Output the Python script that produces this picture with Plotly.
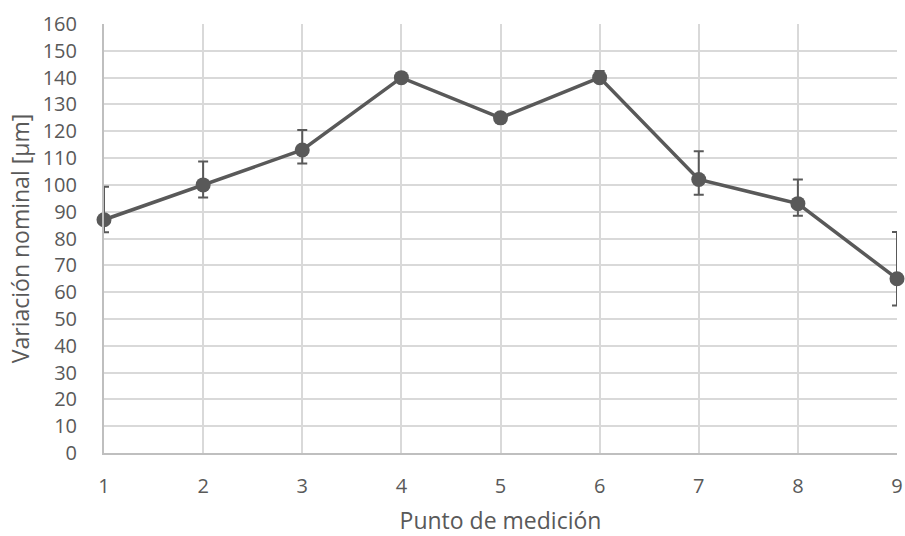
import plotly.graph_objects as go

# Measurement points and nominal variation (µm) with asymmetric error ranges
puntos = [1, 2, 3, 4, 5, 6, 7, 8, 9]
variacion = [87, 100, 113, 140, 125, 140, 102, 93, 65]
error_sup = [12.3, 8.7, 7.5, 0.8, 0.5, 2.5, 10.5, 9.0, 17.4]
error_inf = [4.7, 4.7, 5.0, 0.8, 0.5, 1.5, 5.7, 4.5, 10.0]

gris = "#595959"
fuente = "Open Sans, Noto Sans, sans-serif"

fig = go.Figure()
fig.add_trace(go.Scatter(
    x=puntos,
    y=variacion,
    mode="lines+markers",
    line=dict(color=gris, width=3.5),
    marker=dict(color=gris, size=15),
    error_y=dict(type="data", symmetric=False, array=error_sup,
                 arrayminus=error_inf, color=gris, thickness=2, width=5),
    cliponaxis=False,
    showlegend=False,
))

fig.update_layout(
    width=905, height=536,
    margin=dict(l=104, r=8, t=24, b=83, autoexpand=False),
    paper_bgcolor="white",
    plot_bgcolor="white",
    font=dict(family=fuente, color=gris, size=20),
    xaxis=dict(
        range=[1, 9], tickvals=puntos, ticks="", ticklabelstandoff=14,
        automargin=False,
        showgrid=True, gridcolor="#d9d9d9", gridwidth=1.5,
        showline=True, linecolor="#bfbfbf", linewidth=2,
        zeroline=False,
        title=dict(text="Punto de medición", standoff=17,
                   font=dict(size=23, color=gris)),
        tickfont=dict(size=20, color=gris),
    ),
    yaxis=dict(
        range=[0, 160], dtick=10, ticks="", ticklabelstandoff=21,
        automargin=False,
        showgrid=True, gridcolor="#d9d9d9", gridwidth=1.5,
        showline=True, linecolor="#bfbfbf", linewidth=2,
        zeroline=False,
        title=dict(text="Variación nominal [µm]", standoff=7,
                   font=dict(size=23, color=gris)),
        tickfont=dict(size=20, color=gris),
    ),
)

fig.write_html("out.html")
